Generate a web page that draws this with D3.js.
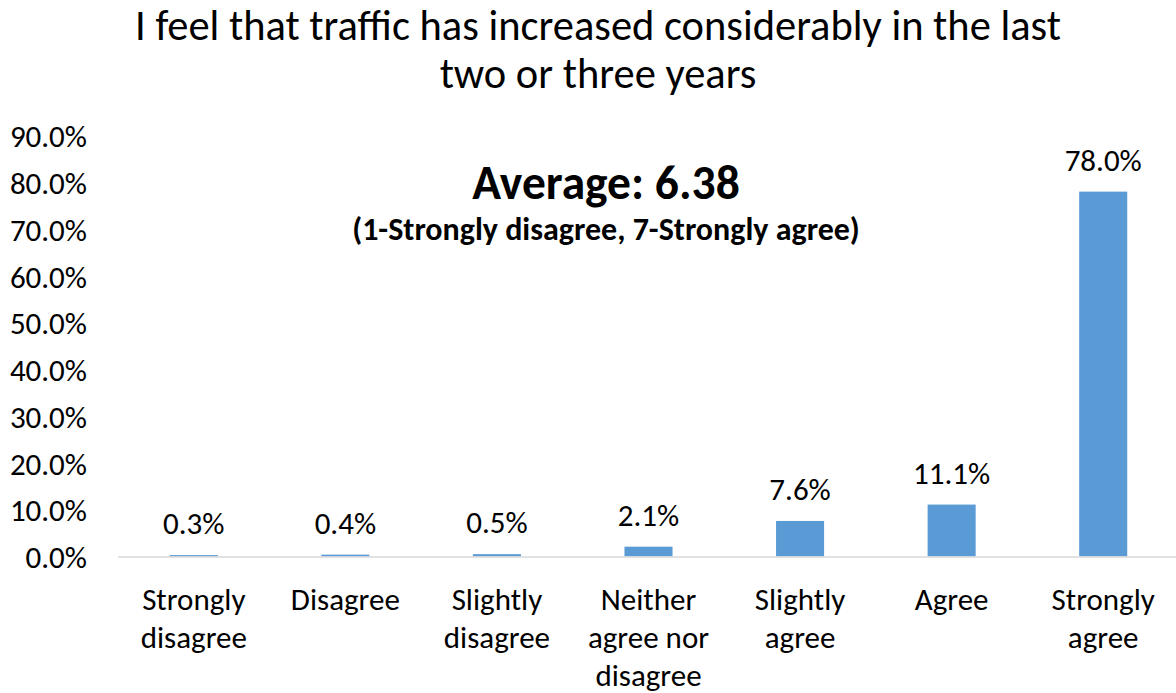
<!DOCTYPE html>
<html>
<head>
<meta charset="utf-8">
<script src="https://cdn.jsdelivr.net/npm/d3@7"></script>
<style>
  html, body { margin: 0; padding: 0; background: #fff; }
  svg text { font-family: Carlito, Calibri, Lato, sans-serif; fill: #000; }
</style>
</head>
<body>
<div id="chart"></div>
<script>
// ---- data ----
const categories = [
  ['Strongly', 'disagree'],
  ['Disagree'],
  ['Slightly', 'disagree'],
  ['Neither', 'agree nor', 'disagree'],
  ['Slightly', 'agree'],
  ['Agree'],
  ['Strongly', 'agree']
];
const values = [0.3, 0.4, 0.5, 2.1, 7.6, 11.1, 78.0];
const yTicks = [0, 10, 20, 30, 40, 50, 60, 70, 80, 90];
const titleLines = ['I feel that traffic has increased considerably in the last', 'two or three years'];
const noteMain = 'Average: 6.38';
const noteSub = '(1-Strongly disagree, 7-Strongly agree)';

// ---- layout ----
const width = 1176, height = 693;
const plotLeft = 118, plotRight = 1179;
const plotTop = 135.5, plotBottom = 556.5;

const svg = d3.select('#chart').append('svg')
  .attr('width', width)
  .attr('height', height);

const x = d3.scaleBand()
  .domain(d3.range(categories.length))
  .range([plotLeft, plotRight])
  .paddingInner(0.683)
  .paddingOuter(0.3415);

const y = d3.scaleLinear()
  .domain([0, 90])
  .range([plotBottom, plotTop]);

// title
svg.append('g')
  .selectAll('text')
  .data(titleLines)
  .join('text')
  .attr('x', 598)
  .attr('y', (d, i) => 40 + i * 48)
  .attr('text-anchor', 'middle')
  .style('font-size', '42.5px')
  .text(d => d);

// y axis labels (no axis line, no gridlines)
const yAxis = d3.axisLeft(y)
  .tickValues(yTicks)
  .tickSize(0)
  .tickPadding(0)
  .tickFormat(d => d.toFixed(1) + '%');

const yg = svg.append('g')
  .attr('transform', `translate(87,0)`)
  .call(yAxis);
yg.select('.domain').remove();
yg.selectAll('text')
  .attr('dy', '0.36em')
  .style('font-size', '31px')
  .style('font-family', 'Carlito, Calibri, Lato, sans-serif')
  .attr('fill', '#000');

// bars
svg.append('g')
  .selectAll('rect')
  .data(values)
  .join('rect')
  .attr('x', (d, i) => x(i))
  .attr('y', d => y(d))
  .attr('width', x.bandwidth())
  .attr('height', d => y(0) - y(d))
  .attr('fill', '#5b9bd5');

// baseline
svg.append('line')
  .attr('x1', plotLeft)
  .attr('x2', width)
  .attr('y1', y(0) + 0.5)
  .attr('y2', y(0) + 0.5)
  .attr('stroke', '#d9d9d9')
  .attr('stroke-width', 1.5);

// value labels
svg.append('g')
  .selectAll('text')
  .data(values)
  .join('text')
  .attr('x', (d, i) => x(i) + x.bandwidth() / 2)
  .attr('y', d => y(d) - 21)
  .attr('text-anchor', 'middle')
  .style('font-size', '31px')
  .text(d => d.toFixed(1) + '%');

// category labels
const cat = svg.append('g')
  .selectAll('text')
  .data(categories)
  .join('text')
  .attr('text-anchor', 'middle')
  .style('font-size', '31px');
cat.each(function (lines, i) {
  d3.select(this).selectAll('tspan')
    .data(lines)
    .join('tspan')
    .attr('x', x(i) + x.bandwidth() / 2)
    .attr('y', (d, j) => 610 + j * 38)
    .text(d => d);
});

// annotation
svg.append('text')
  .attr('x', 606)
  .attr('y', 199)
  .attr('text-anchor', 'middle')
  .style('font-size', '47.5px')
  .style('font-weight', 'bold')
  .text(noteMain);

svg.append('text')
  .attr('x', 606)
  .attr('y', 240)
  .attr('text-anchor', 'middle')
  .style('font-size', '32px')
  .style('font-weight', 'bold')
  .text(noteSub);
</script>
</body>
</html>
